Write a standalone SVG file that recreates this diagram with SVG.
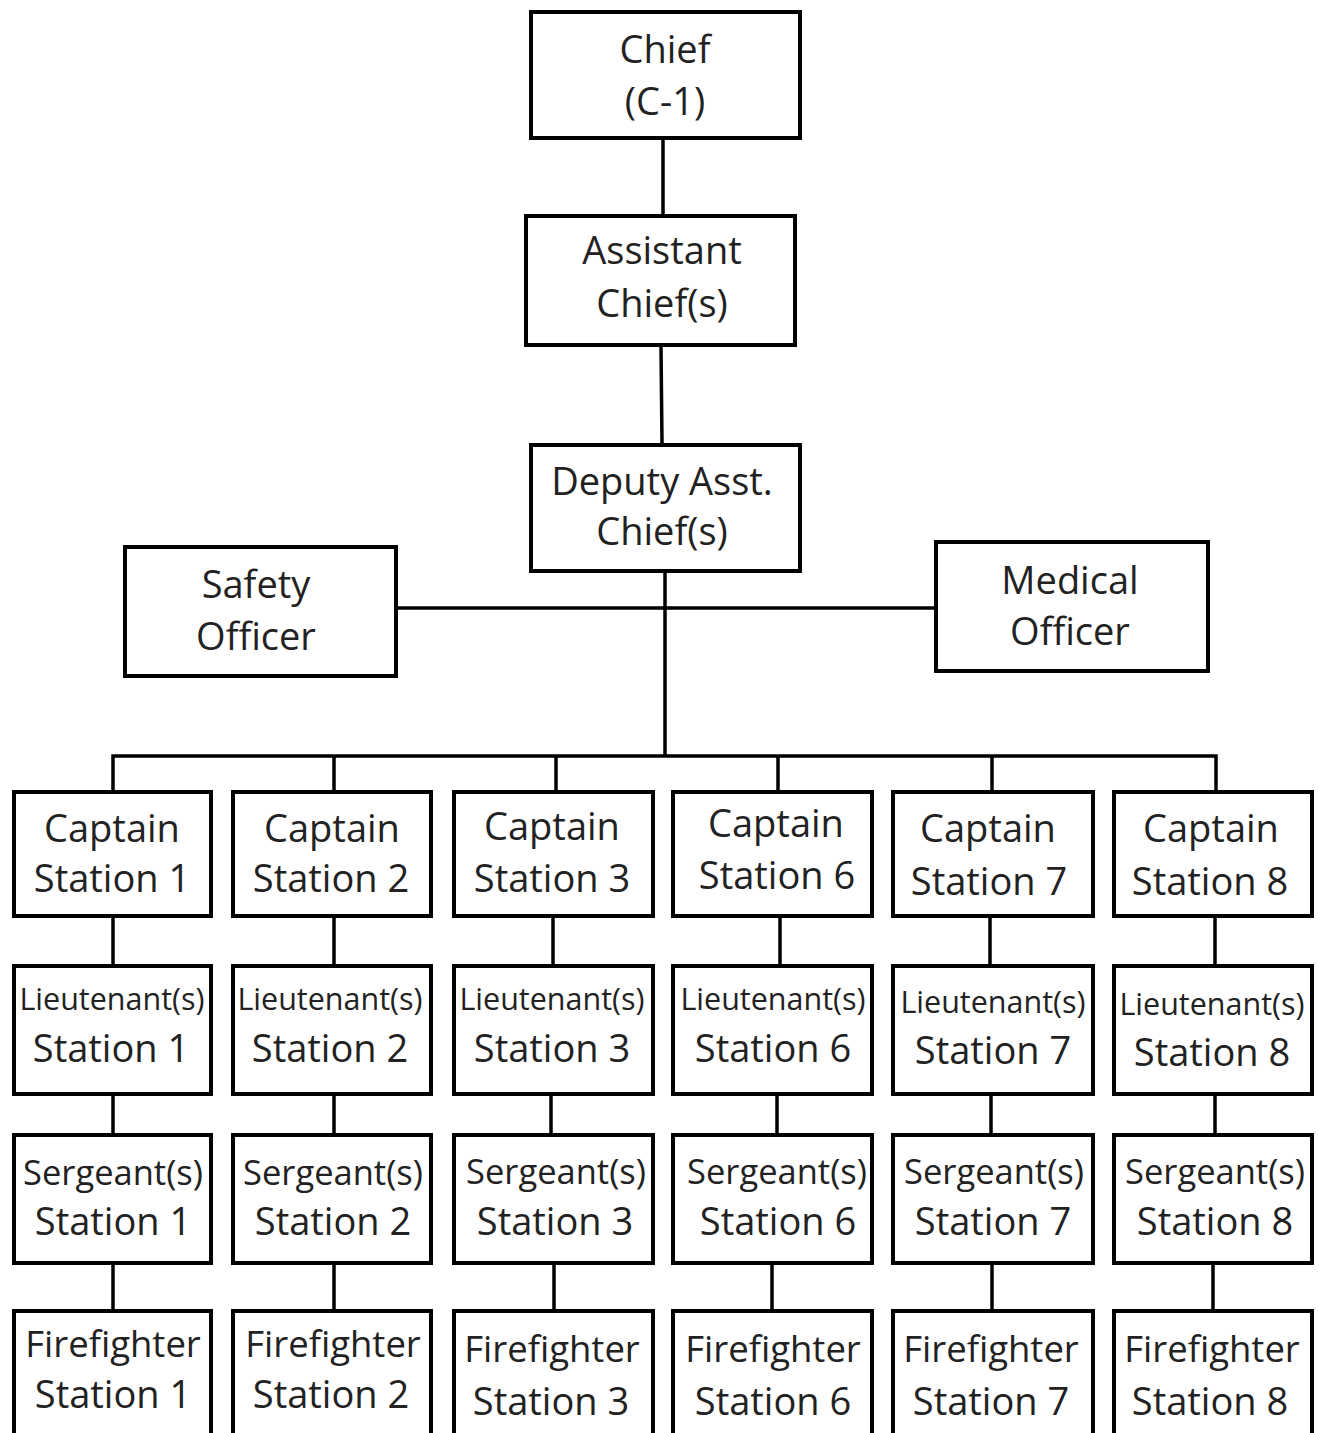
<svg xmlns="http://www.w3.org/2000/svg" width="1319" height="1433" viewBox="0 0 1319 1433">
<style>
.box{fill:#fff;stroke:#000;stroke-width:4}
.t{font-family:"Open Sans","Noto Sans",sans-serif;font-size:38px;fill:#222;text-anchor:middle}
.lt{font-size:30.5px}
.sg{font-size:34.5px}
.ff{font-size:36.5px}
.c{stroke:#000;stroke-width:3.5;fill:none;stroke-linecap:square}
</style>
<rect width="1319" height="1433" fill="#fff"/>
<g id="connectors" class="c">
<path d="M663 140V214M661 347L662 443M665 573V756M398 608H934M113 756H1216M113 756V790M334 756V790M556 756V790M778 756V790M992 756V790M1216 756V790"/>
<path d="M113 918V964M113 1096V1133M113 1265V1309"/>
<path d="M334 918V964M334 1096V1133M334 1265V1309"/>
<path d="M553 918V964M551 1096V1133M554 1265V1309"/>
<path d="M780 918V964M777 1096V1133M772 1265V1309"/>
<path d="M990 918V964M991 1096V1133M992 1265V1309"/>
<path d="M1215 918V964M1215 1096V1133M1213 1265V1309"/>
</g>
<g id="chief"><rect class="box" x="531" y="12" width="269" height="126"/><text class="t" x="665" y="63">Chief</text><text class="t" x="665" y="115">(C-1)</text></g>
<g id="assistant"><rect class="box" x="526" y="216" width="269" height="129"/><text class="t" x="662" y="264">Assistant</text><text class="t" x="662" y="317">Chief(s)</text></g>
<g id="deputy"><rect class="box" x="531" y="445" width="269" height="126"/><text class="t" x="662" y="495">Deputy Asst.</text><text class="t" x="662" y="545">Chief(s)</text></g>
<g id="safety"><rect class="box" x="125" y="547" width="271" height="129"/><text class="t" x="256" y="598">Safety</text><text class="t" x="256" y="650">Officer</text></g>
<g id="medical"><rect class="box" x="936" y="542" width="272" height="129"/><text class="t" x="1070" y="594">Medical</text><text class="t" x="1070" y="645">Officer</text></g>

<g id="captain1"><rect class="box" x="14" y="792" width="197" height="124"/><text class="t" x="112" y="842">Captain</text><text class="t" x="112" y="892">Station 1</text></g>
<g id="captain2"><rect class="box" x="233" y="792" width="198" height="124"/><text class="t" x="332" y="842">Captain</text><text class="t" x="331" y="892">Station 2</text></g>
<g id="captain3"><rect class="box" x="454" y="792" width="199" height="124"/><text class="t" x="552" y="840">Captain</text><text class="t" x="552" y="892">Station 3</text></g>
<g id="captain6"><rect class="box" x="673" y="792" width="199" height="124"/><text class="t" x="776" y="837">Captain</text><text class="t" x="777" y="889">Station 6</text></g>
<g id="captain7"><rect class="box" x="893" y="792" width="200" height="124"/><text class="t" x="988" y="842">Captain</text><text class="t" x="989" y="895">Station 7</text></g>
<g id="captain8"><rect class="box" x="1114" y="792" width="198" height="124"/><text class="t" x="1211" y="842">Captain</text><text class="t" x="1210" y="895">Station 8</text></g>

<g id="lieutenant1"><rect class="box" x="14" y="966" width="197" height="128"/><text class="t lt" x="112" y="1010">Lieutenant(s)</text><text class="t" x="111" y="1062">Station 1</text></g>
<g id="lieutenant2"><rect class="box" x="233" y="966" width="198" height="128"/><text class="t lt" x="330" y="1010">Lieutenant(s)</text><text class="t" x="330" y="1062">Station 2</text></g>
<g id="lieutenant3"><rect class="box" x="454" y="966" width="199" height="128"/><text class="t lt" x="552" y="1010">Lieutenant(s)</text><text class="t" x="552" y="1062">Station 3</text></g>
<g id="lieutenant6"><rect class="box" x="673" y="966" width="199" height="128"/><text class="t lt" x="773" y="1010">Lieutenant(s)</text><text class="t" x="773" y="1062">Station 6</text></g>
<g id="lieutenant7"><rect class="box" x="893" y="966" width="200" height="128"/><text class="t lt" x="993" y="1013">Lieutenant(s)</text><text class="t" x="993" y="1064">Station 7</text></g>
<g id="lieutenant8"><rect class="box" x="1114" y="966" width="198" height="128"/><text class="t lt" x="1212" y="1015">Lieutenant(s)</text><text class="t" x="1212" y="1066">Station 8</text></g>

<g id="sergeant1"><rect class="box" x="14" y="1135" width="197" height="128"/><text class="t sg" x="113" y="1185">Sergeant(s)</text><text class="t" x="113" y="1235">Station 1</text></g>
<g id="sergeant2"><rect class="box" x="233" y="1135" width="198" height="128"/><text class="t sg" x="333" y="1185">Sergeant(s)</text><text class="t" x="333" y="1235">Station 2</text></g>
<g id="sergeant3"><rect class="box" x="454" y="1135" width="199" height="128"/><text class="t sg" x="556" y="1184">Sergeant(s)</text><text class="t" x="555" y="1235">Station 3</text></g>
<g id="sergeant6"><rect class="box" x="673" y="1135" width="199" height="128"/><text class="t sg" x="777" y="1184">Sergeant(s)</text><text class="t" x="778" y="1235">Station 6</text></g>
<g id="sergeant7"><rect class="box" x="893" y="1135" width="200" height="128"/><text class="t sg" x="994" y="1184">Sergeant(s)</text><text class="t" x="993" y="1235">Station 7</text></g>
<g id="sergeant8"><rect class="box" x="1114" y="1135" width="198" height="128"/><text class="t sg" x="1215" y="1184">Sergeant(s)</text><text class="t" x="1215" y="1235">Station 8</text></g>

<g id="firefighter1"><rect class="box" x="14" y="1311" width="197" height="200"/><text class="t ff" x="113" y="1357">Firefighter</text><text class="t" x="113" y="1408">Station 1</text></g>
<g id="firefighter2"><rect class="box" x="233" y="1311" width="198" height="200"/><text class="t ff" x="333" y="1357">Firefighter</text><text class="t" x="331" y="1408">Station 2</text></g>
<g id="firefighter3"><rect class="box" x="454" y="1311" width="199" height="200"/><text class="t ff" x="552" y="1362">Firefighter</text><text class="t" x="551" y="1415">Station 3</text></g>
<g id="firefighter6"><rect class="box" x="673" y="1311" width="199" height="200"/><text class="t ff" x="773" y="1362">Firefighter</text><text class="t" x="773" y="1415">Station 6</text></g>
<g id="firefighter7"><rect class="box" x="893" y="1311" width="200" height="200"/><text class="t ff" x="991" y="1362">Firefighter</text><text class="t" x="991" y="1415">Station 7</text></g>
<g id="firefighter8"><rect class="box" x="1114" y="1311" width="198" height="200"/><text class="t ff" x="1212" y="1362">Firefighter</text><text class="t" x="1210" y="1415">Station 8</text></g>
</svg>
